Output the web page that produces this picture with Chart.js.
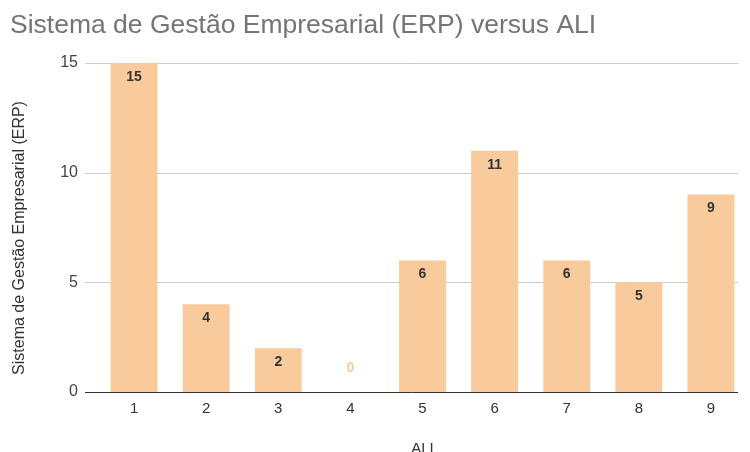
<!DOCTYPE html>
<html>
<head>
<meta charset="utf-8">
<script src="https://cdn.jsdelivr.net/npm/chart.js@4"></script>
<style>
  html, body { margin: 0; padding: 0; background: #fff; }
  #wrap { width: 750px; height: 452px; position: relative; }
</style>
</head>
<body>
<div id="wrap"><canvas id="chart"></canvas></div>
<script>
const categorias = ['1', '2', '3', '4', '5', '6', '7', '8', '9'];
const valores = [15, 4, 2, 0, 6, 11, 6, 5, 9];
const ticksY = [0, 5, 10, 15];

const titulo = 'Sistema de Gestão Empresarial (ERP) versus ALI';
const tituloY = 'Sistema de Gestão Empresarial (ERP)';
const tituloX = 'ALI';
const corBarra = '#F9CB9C';
const fonte = '"Liberation Sans", Arial, sans-serif';

// titulo, grade, titulos dos eixos e rotulos das barras
const extras = {
    id: 'extras',
    beforeDatasetsDraw(chart) {
        const ctx = chart.ctx;
        const y = chart.scales.y;
        ctx.save();
        ticksY.forEach(v => {
            if (v === 0) return;
            const py = Math.round(y.getPixelForValue(v)) + 0.5;
            ctx.strokeStyle = '#cccccc';
            ctx.lineWidth = 1;
            ctx.beginPath();
            ctx.moveTo(85, py);
            ctx.lineTo(738, py);
            ctx.stroke();
        });
        ctx.restore();
    },
    afterDatasetsDraw(chart) {
        const ctx = chart.ctx;
        const area = chart.chartArea;
        ctx.save();
        ctx.font = 'bold 14px ' + fonte;
        ctx.textAlign = 'center';
        ctx.textBaseline = 'middle';
        chart.getDatasetMeta(0).data.forEach((bar, i) => {
            const v = valores[i];
            if (v === 0) {
                ctx.fillStyle = corBarra;
                ctx.fillText(String(v), bar.x, bar.y - 24);
            } else {
                ctx.fillStyle = '#333333';
                ctx.fillText(String(v), bar.x, bar.y + 14);
            }
        });

        // linha do eixo
        const y0 = Math.round(chart.scales.y.getPixelForValue(0)) + 0.5;
        ctx.strokeStyle = '#333333';
        ctx.lineWidth = 1;
        ctx.beginPath();
        ctx.moveTo(85, y0);
        ctx.lineTo(738, y0);
        ctx.stroke();

        // titulo do grafico
        ctx.font = '26.5px ' + fonte;
        ctx.fillStyle = '#757575';
        ctx.textAlign = 'left';
        ctx.textBaseline = 'alphabetic';
        ctx.fillText(titulo, 10, 33);

        // titulos dos eixos
        ctx.fillStyle = '#333333';
        ctx.font = '15px ' + fonte;
        ctx.textAlign = 'center';
        ctx.fillText(tituloX, (area.left + area.right) / 2, 453);

        ctx.translate(24, 238);
        ctx.rotate(-Math.PI / 2);
        ctx.font = '16px ' + fonte;
        ctx.fillText(tituloY, 0, 0);
        ctx.restore();
    }
};

new Chart(document.getElementById('chart'), {
    type: 'bar',
    data: {
        labels: categorias,
        datasets: [{
            data: valores,
            backgroundColor: corBarra,
            borderWidth: 0,
            barPercentage: 0.65,
            categoryPercentage: 1
        }]
    },
    options: {
        responsive: true,
        maintainAspectRatio: false,
        animation: false,
        layout: { padding: { top: 63, right: 3, left: 0, bottom: 0 } },
        plugins: {
            legend: { display: false },
            tooltip: { enabled: false },
            title: { display: false }
        },
        scales: {
            x: {
                offset: true,
                grid: { display: false, drawTicks: false },
                border: { display: false },
                ticks: {
                    padding: 8,
                    color: '#333333',
                    font: { family: fonte, size: 15 }
                },
                afterFit: s => { s.height = 60; }
            },
            y: {
                min: 0,
                max: 15,
                grid: { display: false, drawTicks: false },
                border: { display: false },
                afterBuildTicks: s => { s.ticks = ticksY.map(v => ({ value: v })); },
                ticks: {
                    padding: 20,
                    color: '#444444',
                    font: { family: fonte, size: 16 }
                },
                afterFit: s => { s.width = 98; }
            }
        }
    },
    plugins: [extras]
});
</script>
</body>
</html>
